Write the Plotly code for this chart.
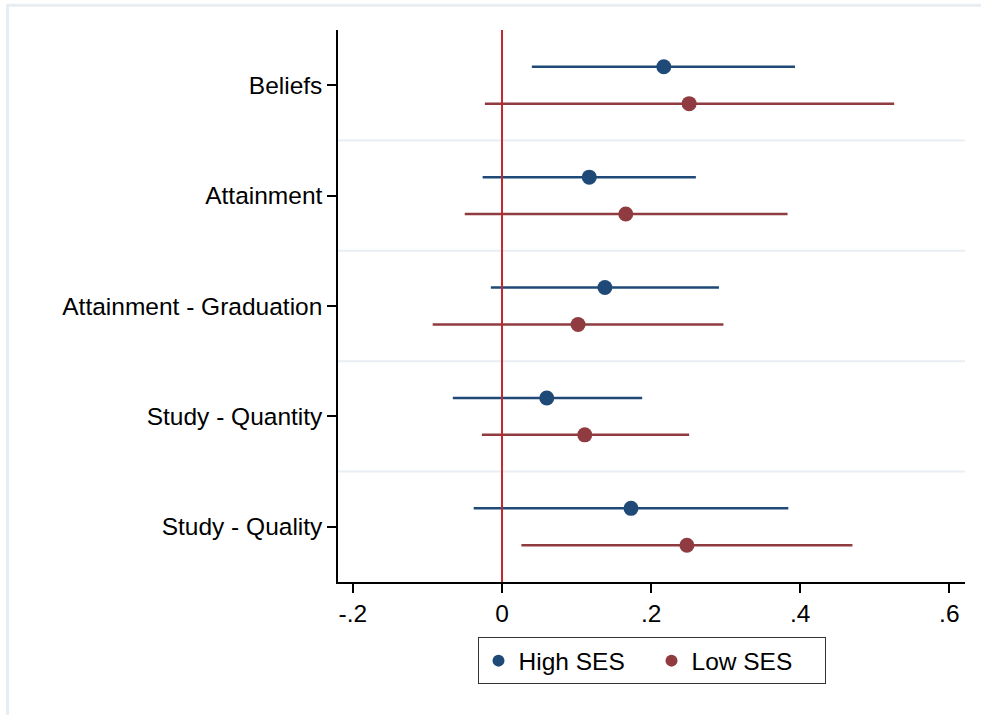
import plotly.graph_objects as go

categories = ["Beliefs", "Attainment", "Attainment - Graduation", "Study - Quantity", "Study - Quality"]
high_est = [0.217, 0.117, 0.138, 0.060, 0.173]
high_lo = [0.040, -0.026, -0.015, -0.066, -0.038]
high_hi = [0.393, 0.260, 0.291, 0.188, 0.384]
low_est = [0.251, 0.166, 0.102, 0.111, 0.248]
low_lo = [-0.023, -0.050, -0.093, -0.027, 0.026]
low_hi = [0.526, 0.383, 0.297, 0.251, 0.470]
xtick_vals = [-0.2, 0, 0.2, 0.4, 0.6]
xtick_text = ["-.2", "0", ".2", ".4", ".6"]

NAVY = "#1f4a78"
MAROON = "#8f3b3f"
FONT = "Liberation Sans, Arial, sans-serif"
FS = 24.5

n = len(categories)
pos = list(range(1, n + 1))
off = 0.167

fig = go.Figure()
fig.add_trace(go.Scatter(
    x=high_est, y=[p - off for p in pos], mode="markers", name="High SES",
    marker=dict(color=NAVY, size=15),
    error_x=dict(type="data", symmetric=False,
                 array=[h - e for h, e in zip(high_hi, high_est)],
                 arrayminus=[e - l for e, l in zip(high_est, high_lo)],
                 color=NAVY, thickness=2.5, width=0),
))
fig.add_trace(go.Scatter(
    x=low_est, y=[p + off for p in pos], mode="markers", name="Low SES",
    marker=dict(color=MAROON, size=15),
    error_x=dict(type="data", symmetric=False,
                 array=[h - e for h, e in zip(low_hi, low_est)],
                 arrayminus=[e - l for e, l in zip(low_est, low_lo)],
                 color=MAROON, thickness=2.5, width=0),
))

shapes = []
for k in range(1, n):
    shapes.append(dict(type="line", xref="paper", x0=0, x1=1, yref="y", y0=k + 0.5, y1=k + 0.5,
                       line=dict(color="#e9eef3", width=2), layer="below"))
shapes.append(dict(type="line", xref="x", x0=0, x1=0, yref="paper", y0=0, y1=1,
                   line=dict(color="#c1272d", width=2)))
# outer graph frame
shapes.append(dict(type="rect", xref="paper", yref="paper",
                   x0=-0.527, x1=1.2, y0=-0.5, y1=1.045,
                   line=dict(color="#e8edf2", width=3), layer="below"))

fig.update_layout(
    width=981, height=715,
    margin=dict(l=338, r=16, t=30, b=133),
    paper_bgcolor="white", plot_bgcolor="white",
    font=dict(family=FONT, size=FS, color="black"),
    showlegend=True,
    legend=dict(orientation="h", x=0.5, xanchor="center", y=-0.1, yanchor="top",
                bordercolor="#333333", borderwidth=1, font=dict(size=FS),
                itemsizing="constant", entrywidth=128, entrywidthmode="pixels"),
    shapes=shapes,
    xaxis=dict(range=[-0.220, 0.621], tickvals=xtick_vals, ticktext=xtick_text,
               showgrid=False, zeroline=False, showline=True, linecolor="black", linewidth=1.5,
               ticks="outside", ticklen=9, tickwidth=1.5, tickcolor="black",
               tickfont=dict(size=FS)),
    yaxis=dict(range=[n + 0.5, 0.5], tickvals=pos, ticktext=categories,
               showgrid=False, zeroline=False, showline=True, linecolor="black", linewidth=1.5,
               ticks="outside", ticklen=9, tickwidth=1.5, tickcolor="black",
               tickfont=dict(size=FS)),
)

fig.write_html("out.html")
